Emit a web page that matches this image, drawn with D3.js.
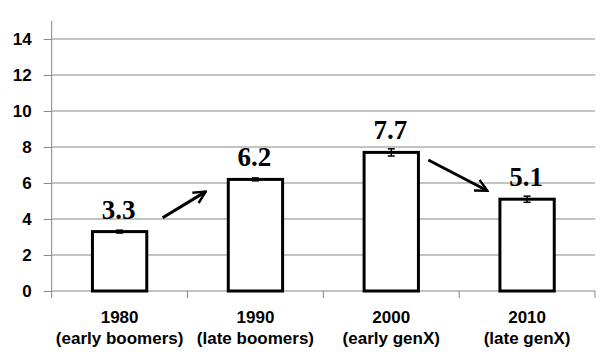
<!DOCTYPE html>
<html>
<head>
<meta charset="utf-8">
<script src="https://cdn.jsdelivr.net/npm/d3@7"></script>
<style>
  body { margin: 0; background: #fff; }
  .axis text { font-family: "Liberation Sans", Arial, sans-serif; font-weight: bold; font-size: 17px; fill: #000; }
  .axis path, .axis line { stroke: #868686; }
</style>
</head>
<body>
<div id="chart"></div>
<script>
var w = 610, h = 363;

var years = ["1980", "1990", "2000", "2010"];
var cohorts = ["(early boomers)", "(late boomers)", "(early genX)", "(late genX)"];
var values = [3.3, 6.2, 7.7, 5.1];
var errors = [0.08, 0.08, 0.2, 0.17];
var yTicks = [0, 2, 4, 6, 8, 10, 12, 14];
// arrows: [from index pos, from value, to index pos, to value]
var arrows = [[0.817, 4.07, 1.134, 5.52], [2.773, 7.28, 3.208, 5.57]];

var padL = 51.7, padR = 595, padT = 21, padB = 291;

var chart = d3.select("#chart")
  .append("svg")
  .attr("width", w)
  .attr("height", h);

var yScale = d3.scaleLinear().domain([0, 15]).range([padB, padT]);
var xScale = d3.scaleBand().domain(years).range([padL, padR]).paddingInner(0.6).paddingOuter(0.3);
var xIdx = d3.scaleLinear().domain([0, years.length]).range([padL, padR]);

// gridlines
chart.append("g")
  .selectAll("line")
  .data(yTicks.slice(1))
  .enter().append("line")
  .attr("x1", padL).attr("x2", padR)
  .attr("y1", d => yScale(d)).attr("y2", d => yScale(d))
  .attr("stroke", "#868686").attr("stroke-width", 1);

var yAxis = d3.axisLeft(yScale).tickValues(yTicks).tickSize(8).tickPadding(12);
chart.append("g")
  .attr("class", "axis")
  .attr("transform", "translate(" + padL + ",0)")
  .call(yAxis)
  .call(g => g.select(".domain").attr("d", "M0," + padT + "V" + padB));

// x axis line + ticks at band boundaries
var xg = chart.append("g").attr("class", "axis");
xg.append("line")
  .attr("x1", padL).attr("x2", padR)
  .attr("y1", padB).attr("y2", padB);
xg.selectAll("line.tk")
  .data(d3.range(years.length + 1))
  .enter().append("line")
  .attr("class", "tk")
  .attr("x1", d => xIdx(d)).attr("x2", d => xIdx(d))
  .attr("y1", padB).attr("y2", padB + 7);

var lbl = xg.selectAll("text.cat")
  .data(years)
  .enter().append("text")
  .attr("class", "cat")
  .attr("text-anchor", "middle")
  .attr("x", (d, i) => xIdx(i + 0.5));
lbl.append("tspan").attr("x", (d, i) => xIdx(i + 0.5)).attr("y", padB + 32).text(d => d);
lbl.append("tspan").attr("x", (d, i) => xIdx(i + 0.5)).attr("y", padB + 53).text((d, i) => cohorts[i]);

// bars
chart.append("g")
  .selectAll("rect")
  .data(values)
  .enter().append("rect")
  .attr("x", (d, i) => xScale(years[i]))
  .attr("width", xScale.bandwidth())
  .attr("y", d => yScale(d))
  .attr("height", d => yScale(0) - yScale(d))
  .attr("fill", "#fff")
  .attr("stroke", "#000")
  .attr("stroke-width", 3);

// error bars
var eb = chart.append("g").attr("stroke", "#000").attr("stroke-width", 1.5);
values.forEach(function (v, i) {
  var cx = xIdx(i + 0.5);
  var y0 = yScale(v - errors[i]), y1 = yScale(v + errors[i]);
  eb.append("line").attr("x1", cx).attr("x2", cx).attr("y1", y0).attr("y2", y1);
  eb.append("line").attr("x1", cx - 3.5).attr("x2", cx + 3.5).attr("y1", y0).attr("y2", y0);
  eb.append("line").attr("x1", cx - 3.5).attr("x2", cx + 3.5).attr("y1", y1).attr("y2", y1);
});

// value labels
chart.append("g")
  .selectAll("text")
  .data(values)
  .enter().append("text")
  .attr("x", (d, i) => xIdx(i + 0.5) - 1)
  .attr("y", d => yScale(d) - 13)
  .attr("text-anchor", "middle")
  .style("font-family", "'Liberation Serif', 'DejaVu Serif', serif")
  .style("font-weight", "bold")
  .style("font-size", "27px")
  .text(d => d3.format(".1f")(d));

// arrows
chart.append("defs").append("marker")
  .attr("id", "head")
  .attr("viewBox", "0 0 10 10")
  .attr("refX", 9).attr("refY", 5)
  .attr("markerWidth", 5).attr("markerHeight", 5)
  .attr("markerUnits", "strokeWidth")
  .attr("orient", "auto")
  .append("path")
  .attr("d", "M1,1 L9,5 L1,9")
  .attr("fill", "none")
  .attr("stroke", "#000")
  .attr("stroke-width", 1.6);

chart.append("g")
  .selectAll("line")
  .data(arrows)
  .enter().append("line")
  .attr("x1", d => xIdx(d[0])).attr("y1", d => yScale(d[1]))
  .attr("x2", d => xIdx(d[2])).attr("y2", d => yScale(d[3]))
  .attr("stroke", "#000")
  .attr("stroke-width", 3)
  .attr("marker-end", "url(#head)");
</script>
</body>
</html>
